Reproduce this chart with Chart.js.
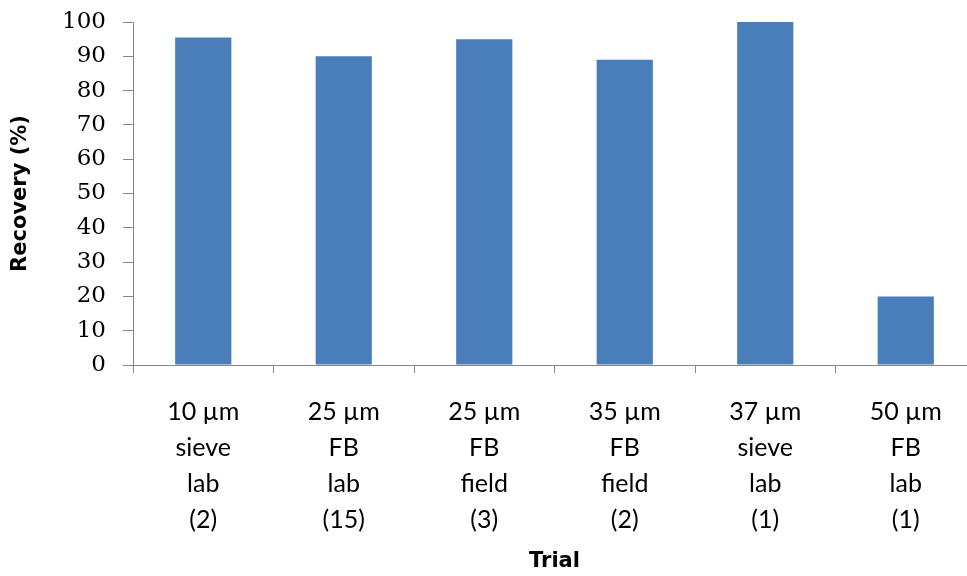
<!DOCTYPE html>
<html lang="en">
<head>
    <meta charset="UTF-8">
    <title>Recovery by trial</title>
    <style>
        html, body { margin: 0; padding: 0; background: #fff; overflow: hidden; }
        #wrap { width: 976px; height: 576px; }
    </style>
</head>
<body>
    <div id="wrap"><canvas id="recoveryChart"></canvas></div>

    <script src="https://cdn.jsdelivr.net/npm/chart.js"></script>
    <script>
        // categories (one array of lines per bar)
        const trials = [
            ['10 µm', 'sieve', 'lab', '(2)'],
            ['25 µm', 'FB', 'lab', '(15)'],
            ['25 µm', 'FB', 'field', '(3)'],
            ['35 µm', 'FB', 'field', '(2)'],
            ['37 µm', 'sieve', 'lab', '(1)'],
            ['50 µm', 'FB', 'lab', '(1)']
        ];
        const recovery = [95.5, 90, 95, 89, 100, 20];
        const yMin = 0, yMax = 100, yStep = 10;

        const axisGray = '#868686';

        const ctx = document.getElementById('recoveryChart').getContext('2d');
        new Chart(ctx, {
            type: 'bar',
            data: {
                labels: trials,
                datasets: [{
                    label: 'Recovery (%)',
                    data: recovery,
                    backgroundColor: '#4a7ebb',
                    borderWidth: 0,
                    categoryPercentage: 0.8,
                    barPercentage: 0.5
                }]
            },
            options: {
                responsive: true,
                maintainAspectRatio: false,
                animation: false,
                layout: { padding: { top: 22, left: 8, right: 0, bottom: 2 } },
                plugins: {
                    legend: { display: false },
                    tooltip: { enabled: false }
                },
                scales: {
                    x: {
                        offset: true,
                        // fixed height so the axis sits where the original has it
                        afterFit: scale => { scale.height = 209; },
                        grid: {
                            offset: true,
                            drawOnChartArea: false,
                            drawTicks: true,
                            tickLength: 8,
                            color: axisGray
                        },
                        border: { color: axisGray, width: 1 },
                        ticks: {
                            color: '#000',
                            padding: 21,
                            maxRotation: 0,
                            autoSkip: false,
                            font: { family: 'Lato', size: 25, lineHeight: 1.44 }
                        },
                        title: {
                            display: true,
                            text: 'Trial',
                            color: '#000',
                            padding: { top: 0, bottom: 0 },
                            font: { family: 'DejaVu Sans', size: 21, weight: 'bold' }
                        }
                    },
                    y: {
                        min: yMin,
                        max: yMax,
                        afterFit: scale => {
                            scale.width = 125;
                            scale.paddingTop = 0;
                        },
                        grid: {
                            drawOnChartArea: false,
                            drawTicks: true,
                            tickLength: 10,
                            color: axisGray
                        },
                        border: { color: axisGray, width: 1 },
                        ticks: {
                            stepSize: yStep,
                            color: '#000',
                            padding: 17,
                            font: { family: 'DejaVu Serif', size: 23 }
                        },
                        title: {
                            display: true,
                            text: 'Recovery (%)',
                            color: '#000',
                            padding: 0,
                            font: { family: 'DejaVu Sans', size: 21, weight: 'bold', lineHeight: 1.2 }
                        }
                    }
                }
            }
        });
    </script>
</body>
</html>
